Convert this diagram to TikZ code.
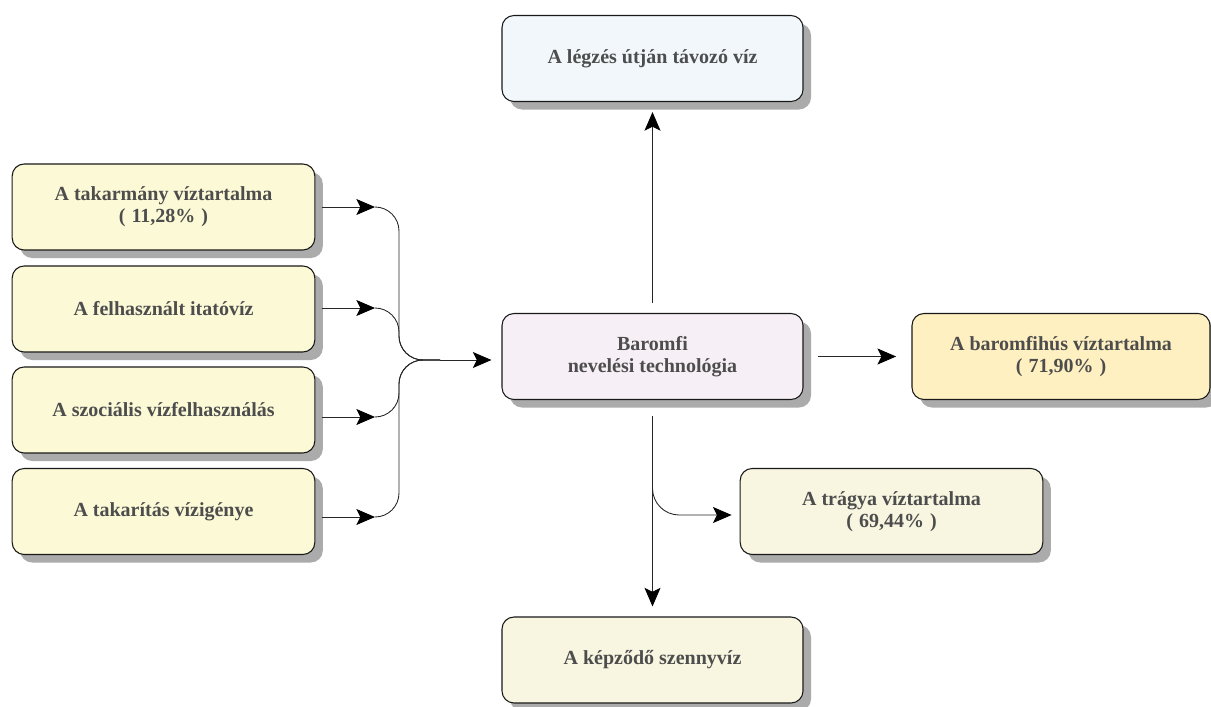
\documentclass[tikz,border=0pt]{standalone}
\usepackage{fontspec}
\setmainfont{Liberation Serif}
\usetikzlibrary{shadows,arrows.meta}
\definecolor{txt}{HTML}{4D4D4D}
\definecolor{cyel}{HTML}{FCF9D6}
\definecolor{cblue}{HTML}{F1F7FA}
\definecolor{clav}{HTML}{F7EFF6}
\definecolor{corg}{HTML}{FFF0C2}
\definecolor{cpale}{HTML}{F8F6E0}
\newcommand{\pct}[1]{(\hspace{0.3em}#1\hspace{0.3em})}
\tikzset{
  box/.style={draw=black!90, line width=0.8pt, rounded corners=9pt, align=center,
    font=\fontsize{15}{16.5}\selectfont\bfseries, text=txt,
    minimum width=227pt, minimum height=64.5pt, inner sep=2pt,
    drop shadow={shadow xshift=6pt, shadow yshift=-6pt, fill=black!33, opacity=1}},
  conn/.style={draw=black!85, line width=0.65pt},
  arr/.style={conn, -{Stealth[length=14pt,width=12pt,inset=3pt,color=black]}}
}
\begin{document}
\begin{tikzpicture}[x=0.75pt,y=-0.75pt]
\useasboundingbox (0,0) rectangle (1211,707);
\clip (0,0) rectangle (1211,707);
% left input boxes
\node[box, fill=cyel] (b1) at (163.5,207) {A takarmány víztartalma\\\pct{11,28\%}};
\node[box, fill=cyel] (b2) at (163.5,309) {A felhasznált itatóvíz};
\node[box, fill=cyel] (b3) at (163.5,410) {A szociális vízfelhasználás};
\node[box, fill=cyel] (b4) at (163.5,511.5) {A takarítás vízigénye};
% center
\node[box, fill=clav, minimum width=225.75pt] (c) at (652.5,356.5) {Baromfi\\nevelési technológia};
% outputs
\node[box, fill=cblue, minimum width=225.75pt] (top) at (652.5,58.5) {A légzés útján távozó víz};
\node[box, fill=corg, minimum width=223.5pt] (r) at (1061,356.5) {A baromfihús víztartalma\\\pct{71,90\%}};
\node[box, fill=cpale] (t) at (891.5,511.5) {A trágya víztartalma\\\pct{69,44\%}};
\node[box, fill=cpale, minimum width=225.75pt] (bot) at (652.5,660) {A képződő szennyvíz};
% junction coordinates
\coordinate (j1) at (375,207);
\coordinate (j2) at (375,308);
\coordinate (j3) at (375,417);
\coordinate (j4) at (375,517);
\coordinate (m) at (399,360);
\coordinate (m2) at (440,360);
% inputs
\draw[arr, shorten <=5pt] (b1.east |- j1) -- (j1);
\draw[arr, shorten <=5pt] (b2.east |- j2) -- (j2);
\draw[arr, shorten <=5pt] (b3.east |- j3) -- (j3);
\draw[arr, shorten <=5pt] (b4.east |- j4) -- (j4);
\draw[conn, rounded corners=18pt] (j1) -| (m) -- (m2);
\draw[conn, rounded corners=18pt] (j2) -| (m) -- (m2);
\draw[conn, rounded corners=18pt] (j3) -| (m) -- (m2);
\draw[conn, rounded corners=18pt] (j4) -| (m) -- (m2);
\draw[arr, shorten >=7.5pt] (m2) -- (m2 -| c.west);
% outputs
\draw[arr, shorten <=7.5pt, shorten >=7.5pt] (c.north) -- (top.south);
\draw[arr, shorten <=11pt, shorten >=11.5pt] (c.east) -- (r.west);
\draw[arr, shorten <=12pt, shorten >=7.5pt] (c.south) -- (bot.north);
\coordinate (br) at (652.5,470);
\draw[arr, rounded corners=20pt, shorten >=6pt] (br) |- (t.west |- 0,515);
\end{tikzpicture}
\end{document}
